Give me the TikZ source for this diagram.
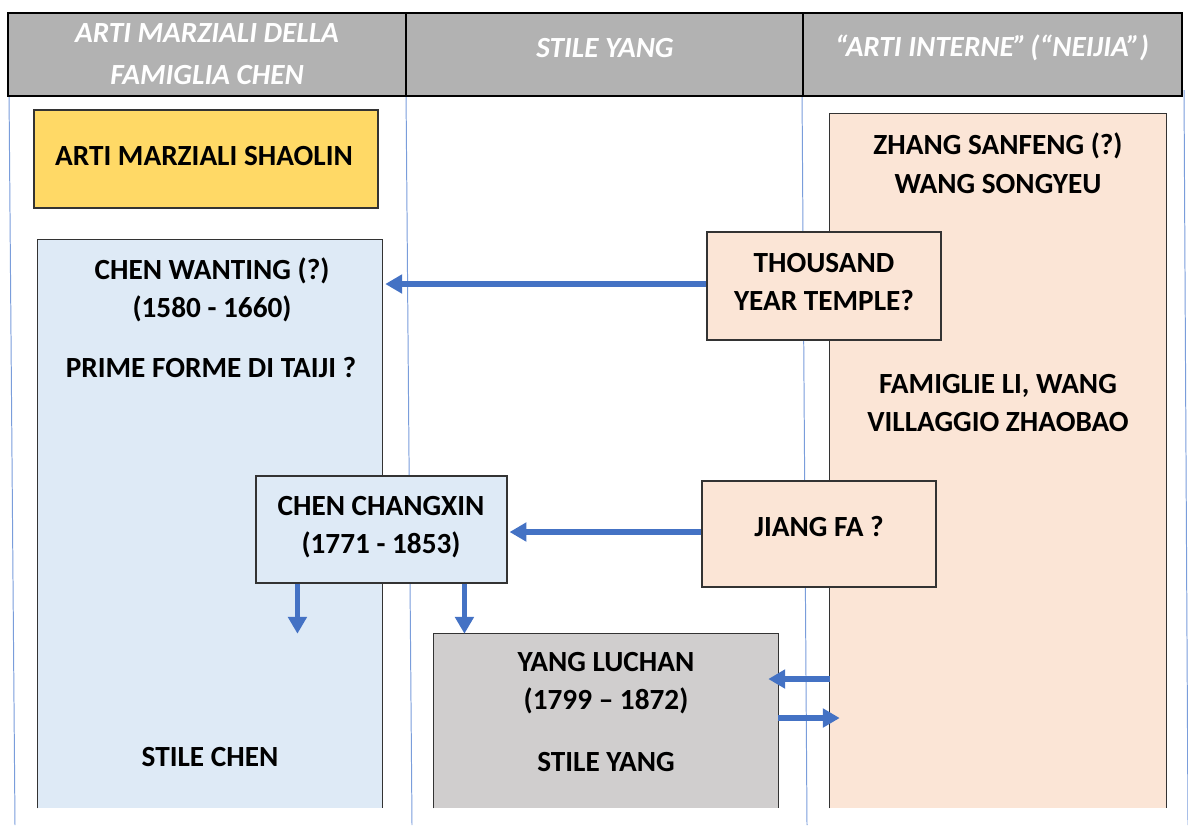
\documentclass[tikz,border=0pt]{standalone}
\usepackage{fontspec}
\setmainfont{Carlito}
\usetikzlibrary{arrows.meta,fit,calc}
\definecolor{headgray}{HTML}{B2B2B2}
\definecolor{chenblue}{HTML}{DEEAF6}
\definecolor{neijiapink}{HTML}{FBE5D6}
\definecolor{shaolingold}{HTML}{FFD966}
\definecolor{yanggray}{HTML}{D0CECE}
\definecolor{arrowblue}{HTML}{4472C4}
\definecolor{gridblue}{HTML}{7A9DDB}

\begin{document}
\begin{tikzpicture}[x=0.025cm,y=-0.025cm,
  head/.style={fill=headgray,draw=black,line width=1.1pt,inner sep=0pt},
  headtext/.style={text=white,font=\fontsize{20.8}{30}\selectfont\bfseries\itshape,align=center},
  box/.style={draw=black!80,line width=0.8pt,inner sep=0pt},
  column/.style={inner sep=0pt},
  side/.style={draw=black!80,line width=0.8pt},
  txt/.style={font=\fontsize{20.8}{27.5}\selectfont\bfseries,align=center},
  link/.style={draw=arrowblue,line width=3.6pt,-{Triangle[length=12pt,width=13pt]}},
  grid/.style={draw=gridblue,line width=0.7pt}]
\useasboundingbox (0,0) rectangle (1188,825);

\draw [grid] (9,90) -- (15,825);
\draw [grid] (406,90) -- (412,825);
\draw [grid] (802,90) -- (807,825);
\draw [grid] (1184,90) -- (1188,825);

% header
\node [head,fit={(8,13) (406,96)}] (h1) {};
\node [head,fit={(406,13) (803,96)}] (h2) {};
\node [head,fit={(803,13) (1182,96)}] (h3) {};
\node [headtext] (h1text) at (h1.center) {ARTI MARZIALI DELLA\\FAMIGLIA CHEN};
\node [headtext] (h2text) at (605,48) {STILE YANG};
\node [headtext] (h3text) at (992,48) {“ARTI INTERNE”\kern-2pt{} (“NEIJIA”)};

% columns
\node [column,fill=chenblue,fit={(38,240) (382,808)}] (chen) {};
\draw [side] (chen.south west) -- (chen.north west) -- (chen.north east) -- (chen.south east);
\node [column,fill=neijiapink,fit={(830,114) (1166,808)}] (neijia) {};
\draw [side] (neijia.south west) -- (neijia.north west) -- (neijia.north east) -- (neijia.south east);
\node [column,fill=yanggray,fit={(434,634) (778,808)}] (yang) {};
\draw [side] (yang.south west) -- (yang.north west) -- (yang.north east) -- (yang.south east);

\node [box,fill=shaolingold,fit={(34,110) (378,208)}] (shaolin) {};
\node [box,fill=neijiapink,fit={(707,232) (941,340)}] (temple) {};
\node [box,fill=neijiapink,fit={(702,481) (936,587)}] (jiang) {};
\node [box,fill=chenblue,fit={(256,476) (507,583)}] (changxin) {};

% texts
\node [txt] (shaolintext) at (204,156) {ARTI MARZIALI SHAOLIN};
\node [txt] (wanting) at (212,290) {CHEN WANTING (?)\\(1580 - 1660)};
\node [txt] (forme) at (211,367) {PRIME FORME DI TAIJI ?};
\node [txt] (stilechen) at (210,757) {STILE CHEN};
\node [txt] (zhang) at (998,163) {ZHANG SANFENG (?)\\WANG SONGYEU};
\node [txt] (famiglie) at (998,403) {FAMIGLIE LI, WANG\\VILLAGGIO ZHAOBAO};
\node [txt] (templetext) at (824,282) {THOUSAND\\YEAR TEMPLE?};
\node [txt] (jiangtext) at (819,526) {JIANG FA ?};
\node [txt] (changxintext) at (381,527) {CHEN CHANGXIN\\(1771 - 1853)};
\node [txt] (luchan) at (606,683) {YANG LUCHAN\\(1799 – 1872)};
\node [txt] (stileyang) at (606,762) {STILE YANG};

% arrows
\draw [link] ($(temple.west)+(0,-2)$) -- ($(chen.east |- temple.west)+(3,-2)$);
\draw [link] ($(jiang.west)+(0,-2)$) -- ($(changxin.east |- jiang.west)+(2,-2)$);
\draw [link] ($(changxin.south west)+(42,0)$) coordinate (c1) -- (c1 |- yang.north);
\draw [link] ($(changxin.south west)+(209,0)$) coordinate (c2) -- (c2 |- yang.north);
\draw [link] ($(neijia.west |- yang.east)+(0,-42)$) -- ($(yang.east)+(-10,-42)$);
\draw [link] ($(yang.east)+(0,-3)$) -- ($(neijia.west |- yang.east)+(10,-3)$);

\end{tikzpicture}
\end{document}
